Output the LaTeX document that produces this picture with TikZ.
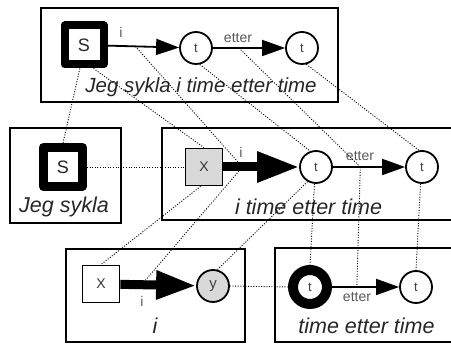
\documentclass[tikz,border=0pt]{standalone}
\usepackage{fontspec}
\setmainfont{Liberation Sans}
\usetikzlibrary{arrows.meta}
\begin{document}
\begin{tikzpicture}[x=1pt,y=-1pt,
  box/.style={draw,line width=1.8pt},
  sbox/.style={draw,line width=8pt,line join=round,minimum size=39pt,inner sep=0pt,font=\fontsize{18}{18}\selectfont\color{black!85}},
  tnode/.style={draw,circle,line width=1.8pt,minimum size=32pt,inner sep=0pt,font=\fontsize{13}{13}\selectfont\color{black!75}},
  xnode/.style={draw,line width=1.8pt,minimum size=37pt,inner sep=0pt,font=\fontsize{14}{14}\selectfont\color{black!80}},
  gfill/.style={fill=gray!30},
  thinarr/.style={line width=1.8pt,-{Triangle[length=23pt,width=16pt]}},
  thickarr/.style={line width=9pt,-{Triangle[length=42pt,width=29pt]}},
  lab/.style={font=\fontsize{14}{14}\selectfont\color{black!65},inner sep=0pt},
  ttl/.style={font=\fontsize{21.5}{21.5}\selectfont\itshape\color{black!85},inner sep=0pt,anchor=base},
  link/.style={dash pattern=on 1pt off 1.6pt,line width=0.9pt}
]
\useasboundingbox (0,0) rectangle (451,344);
% boxes
\draw[box] (41,8) rectangle (338,102);
\draw[box] (10,128) rectangle (121,223);
\draw[box] (162,128) rectangle (460,220);
\draw[box] (66,249) rectangle (245,342);
\draw[box] (275,248) rectangle (460,342);
% titles
\node[ttl,font=\fontsize{20.5}{20.5}\selectfont\itshape\color{black!85}] (ttl1) at (201,93) {Jeg sykla i time etter time};
\node[ttl] (ttl2) at (64,213) {Jeg sykla};
\node[ttl] (ttl3) at (308.5,215) {i time etter time};
\node[ttl] (ttl4) at (155,334) {i};
\node[ttl] (ttl5) at (366.5,334) {time etter time};
% box 1
\node[sbox] (s1) at (84,45) {S};
\node[tnode] (t1) at (196,48) {t};
\node[tnode] (t2) at (302,48) {t};
\draw[thinarr] (s1) -- coordinate[pos=0.39] (a1) (t1);
\draw[thinarr] (t1) -- coordinate[pos=0.36] (e1) (t2);
\node[lab] (l1) at (121,32) {i};
\node[lab] (l2) at (238,38) {etter};
% box 2
\node[sbox,line width=9pt] (s2) at (63,167) {S};
% box 3
\node[xnode,gfill] (x3) at (204,167) {X};
\node[tnode] (t3) at (316,167) {t};
\node[tnode] (t4) at (422,167) {t};
\draw[thickarr] (x3) -- coordinate[pos=0.25] (a3) (t3);
\draw[thinarr] (t3) -- coordinate[pos=0.38] (e3) (t4);
\node[lab] (l3) at (241,152) {i};
\node[lab] (l4) at (360,156) {etter};
% box 4
\node[xnode,fill=white] (x4) at (101,284) {X};
\node[tnode,gfill,font=\fontsize{15}{15}\selectfont\color{black!75}] (y4) at (213,286) {y};
\draw[thickarr,-{Triangle[length=40pt,width=27pt]}] (x4) -- coordinate[pos=0.28] (a4) (y4);
\node[lab] (l5) at (142,301) {i};
% box 5
\node[tnode,line width=10pt,minimum size=34pt] (t5) at (310,287) {t};
\node[tnode] (t6) at (416,287) {t};
\draw[thinarr] (t5) -- coordinate[pos=0.37] (e5) (t6);
\node[lab] (l6) at (357,297) {etter};
% dotted links
\draw[link] (s1.-100) -- (s2.north);
\draw[link] (s1.-68) -- (x3.north);
\draw[link] (a1) -- (a3);
\draw[link] (t1.-77) -- (t3.110);
\draw[link] (e1) -- (e3);
\draw[link] (t2.-75) -- (t4.100);
\draw[link] (s2.east) -- (x3.west);
\draw[link] (x3.-100) -- (x4.north);
\draw[link] (a3) -- (a4);
\draw[link] (t3.-120) -- (y4.75);
\draw[link] (t3.-95) -- (t5.north);
\draw[link] (e3) -- (e5);
\draw[link] (t4.-95) -- (t6.north);
\draw[link] (y4.east) -- (t5.west);
\end{tikzpicture}
\end{document}
